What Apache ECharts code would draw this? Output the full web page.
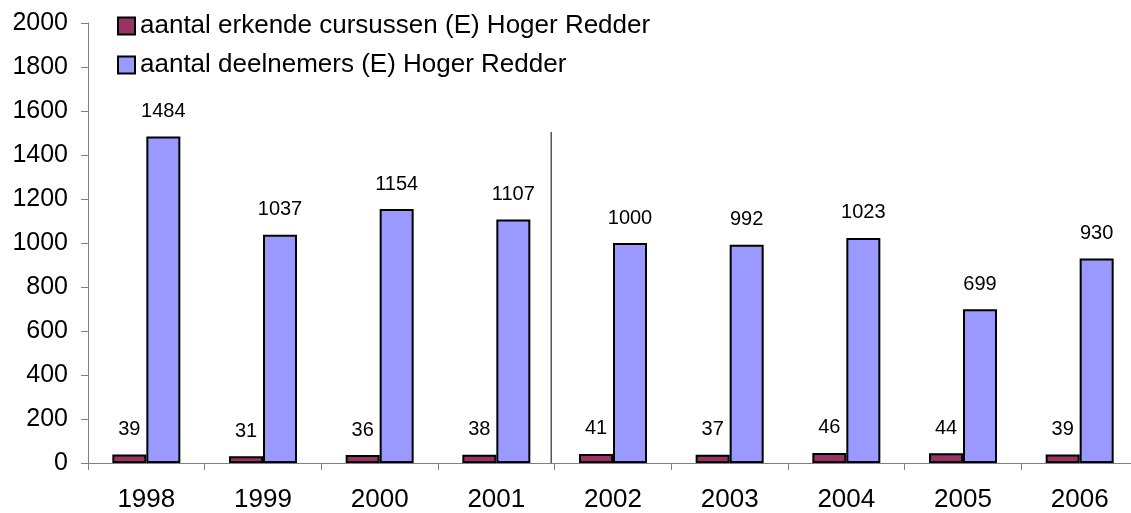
<!DOCTYPE html>
<html>
<head>
<meta charset="utf-8">
<script src="https://cdn.jsdelivr.net/npm/echarts@6/dist/echarts.min.js"></script>
<style>
  html, body { margin: 0; padding: 0; background: #fff; overflow: hidden; }
  #chart { width: 1150px; height: 513px; }
</style>
</head>
<body>
<div id="chart"></div>
<script>
const years = ['1998', '1999', '2000', '2001', '2002', '2003', '2004', '2005', '2006']
const cursussen = [39, 31, 36, 38, 41, 37, 46, 44, 39]
const deelnemers = [1484, 1037, 1154, 1107, 1000, 992, 1023, 699, 930]
// separator between 2001 and 2002 (category index units)
const separator = [[3.97, 0], [3.97, 1505]]

const chart = echarts.init(document.getElementById('chart'))
const font = 'Liberation Sans, Arial, sans-serif'

const option = {
  backgroundColor: '#FFFFFF',
  animation: false,
  textStyle: { fontFamily: font },
  legend: {
    orient: 'vertical',
    left: 112,
    top: 8,
    itemWidth: 17,
    itemHeight: 17,
    itemGap: 13,
    icon: 'rect',
    textStyle: { fontSize: 26, color: '#000', fontFamily: font },
    data: ['aantal erkende cursussen (E) Hoger Redder', 'aantal deelnemers (E) Hoger Redder']
  },
  grid: {
    left: 88,
    width: 1050,
    top: 23,
    bottom: 44
  },
  xAxis: [{
    type: 'category',
    data: years,
    axisLine: { lineStyle: { color: '#808080', width: 1 } },
    axisTick: { show: true, length: 7, lineStyle: { color: '#808080' } },
    axisLabel: { fontSize: 26, color: '#000', margin: 24, fontFamily: font },
    splitLine: { show: false }
  }, {
    type: 'value',
    min: 0,
    max: 9,
    show: false
  }],
  yAxis: {
    type: 'value',
    min: 0,
    max: 2000,
    interval: 200,
    axisLine: { show: true, lineStyle: { color: '#808080', width: 1 } },
    axisTick: { show: true, length: 7, lineStyle: { color: '#808080' } },
    axisLabel: { fontSize: 25, color: '#000', margin: 20, fontFamily: font, formatter: v => String(v) },
    splitLine: { show: false }
  },
  series: [{
    name: 'aantal erkende cursussen (E) Hoger Redder',
    type: 'bar',
    data: cursussen,
    barWidth: 34,
    barGap: '0%',
    itemStyle: { color: '#993366', borderColor: '#000', borderWidth: 2 },
    label: { show: true, position: 'top', distance: 15, fontSize: 20, color: '#000', fontFamily: font }
  }, {
    name: 'aantal deelnemers (E) Hoger Redder',
    type: 'bar',
    data: deelnemers,
    barWidth: 34,
    barGap: '0%',
    itemStyle: { color: '#9999FF', borderColor: '#000', borderWidth: 2 },
    label: { show: true, position: 'top', distance: 15, fontSize: 20, color: '#000', fontFamily: font }
  }, {
    type: 'line',
    xAxisIndex: 1,
    data: separator,
    symbol: 'none',
    silent: true,
    lineStyle: { color: '#000', width: 1 }
  }]
}

chart.setOption(option)
</script>
</body>
</html>
